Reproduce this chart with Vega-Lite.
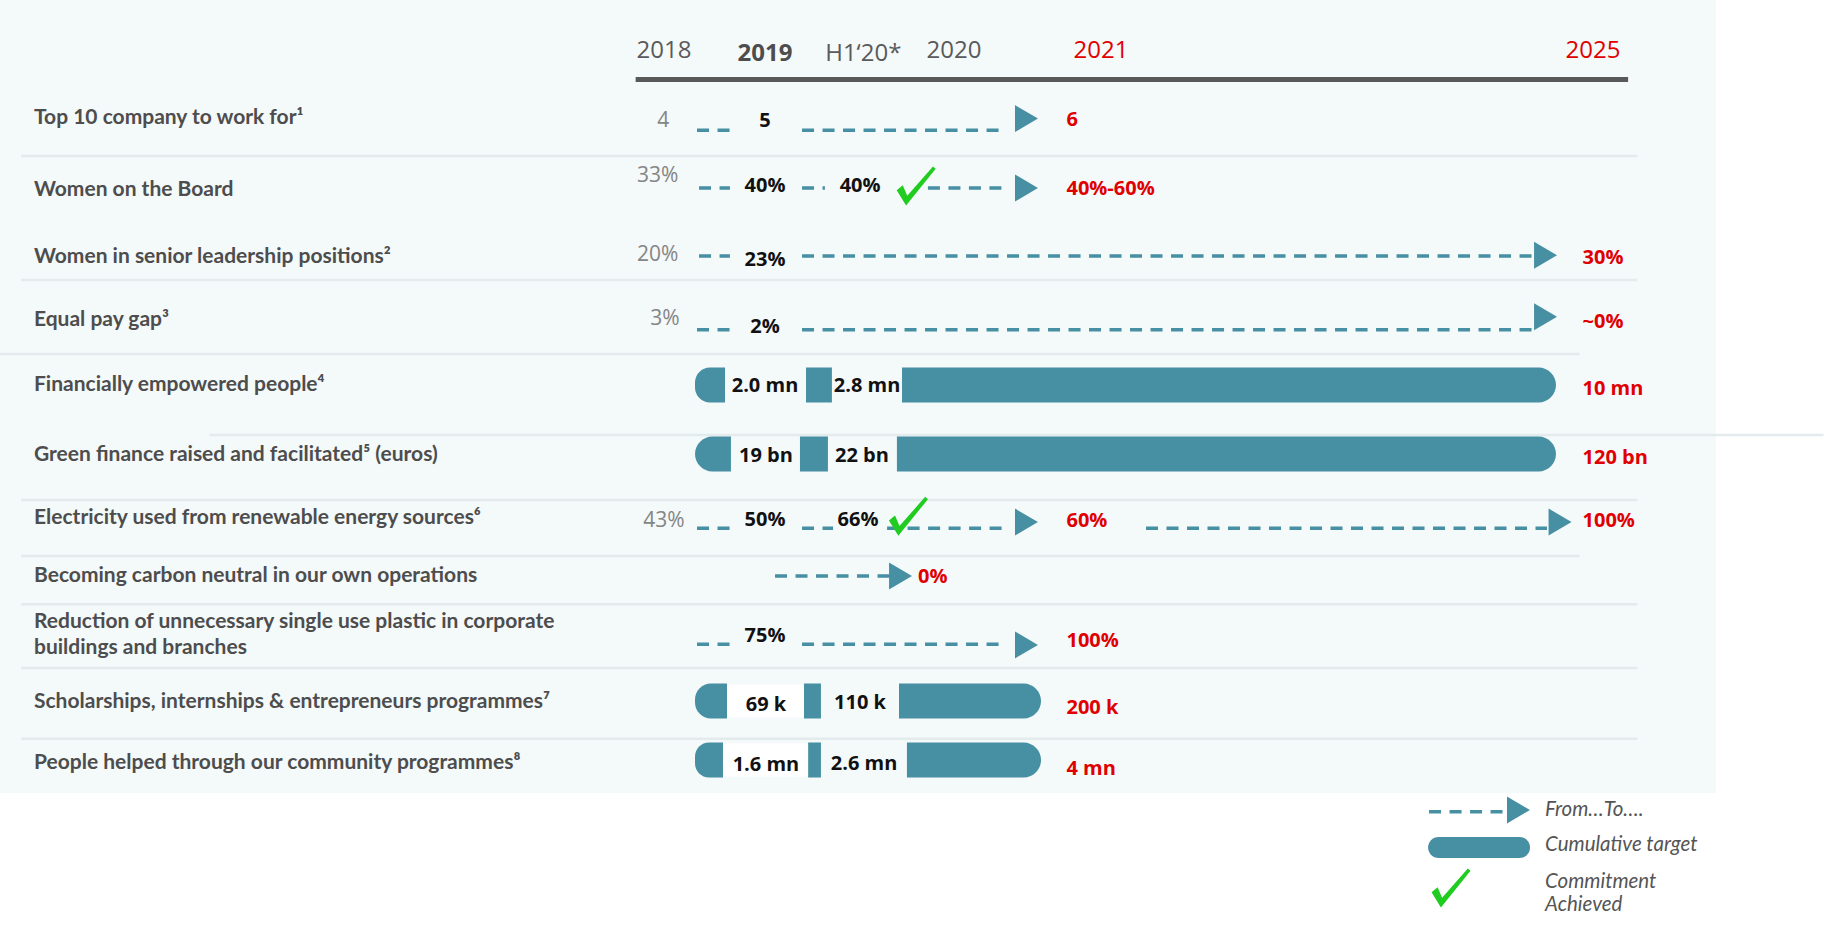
{
  "$schema": "https://vega.github.io/schema/vega-lite/v6.json",
  "width": 1716,
  "height": 793,
  "autosize": {"type": "none"},
  "padding": {"left": 0, "top": 0, "right": 111, "bottom": 139},
  "background": "#ffffff",
  "config": {"view": {"fill": "#f4f9fa", "stroke": null}},
  "datasets": {
    "sep": [
      {"t": 2009.62, "t2": 2025.38, "y": 1.529},
      {"t": 2009.62, "t2": 2025.38, "y": 3.375},
      {"t": 2009.0, "t2": 2024.89, "y": 4.523},
      {"t": 2012.23, "t2": 2026.97, "y": 5.725},
      {"t": 2009.62, "t2": 2025.38, "y": 6.687},
      {"t": 2009.62, "t2": 2024.89, "y": 7.636},
      {"t": 2009.62, "t2": 2025.38, "y": 8.44},
      {"t": 2009.62, "t2": 2025.38, "y": 9.46},
      {"t": 2009.62, "t2": 2025.38, "y": 10.64}
    ],
    "hline": [{"t": 2017.64, "t2": 2025.3, "y": 0.413}],
    "years": [
      {"t": 2018, "y": 0, "text": "2018", "kind": "past"},
      {"t": 2019, "y": 0.04, "text": "2019", "kind": "current"},
      {"t": 2019.52, "y": 0.04, "text": "H1‘20*", "kind": "past"},
      {"t": 2020, "y": 0, "text": "2020", "kind": "past"},
      {"t": 2021, "y": 0, "text": "2021", "kind": "target"},
      {"t": 2025, "y": 0, "text": "2025", "kind": "target"}
    ],
    "labels": [
      {"t": 2010, "y": 0.97, "text": "Top 10 company to work for¹"},
      {"t": 2010, "y": 2.03, "text": "Women on the Board"},
      {"t": 2010, "y": 3.02, "text": "Women in senior leadership positions²"},
      {"t": 2010, "y": 4.0, "text": "Equal pay gap³"},
      {"t": 2010, "y": 5.0, "text": "Financially empowered people⁴"},
      {"t": 2010, "y": 6.01, "text": "Green finance raised and facilitated⁵ (euros)"},
      {"t": 2010, "y": 6.96, "text": "Electricity used from renewable energy sources⁶"},
      {"t": 2010, "y": 8.0, "text": "Becoming carbon neutral in our own operations"},
      {"t": 2010, "y": 8.72, "text": "Reduction of unnecessary single use plastic in corporate\nbuildings and branches"},
      {"t": 2010, "y": 10.02, "text": "Scholarships, internships & entrepreneurs programmes⁷"},
      {"t": 2010, "y": 11.06, "text": "People helped through our community programmes⁸"}
    ],
    "base": [
      {"t": 2017.99, "y": 1.01, "text": "4"},
      {"t": 2017.92, "y": 1.82, "text": "33%"},
      {"t": 2017.92, "y": 2.99, "text": "20%"},
      {"t": 2018.01, "y": 3.98, "text": "3%"},
      {"t": 2018.0, "y": 7.0, "text": "43%"}
    ],
    "vals": [
      {"t": 2019, "y": 1.01, "text": "5"},
      {"t": 2019, "y": 1.97, "text": "40%"},
      {"t": 2019.503, "y": 1.97, "text": "40%"},
      {"t": 2019, "y": 3.06, "text": "23%"},
      {"t": 2019, "y": 4.11, "text": "2%"},
      {"t": 2019, "y": 5.02, "text": "2.0 mn"},
      {"t": 2019.54, "y": 5.02, "text": "2.8 mn"},
      {"t": 2019.005, "y": 6.03, "text": "19 bn"},
      {"t": 2019.513, "y": 6.03, "text": "22 bn"},
      {"t": 2019, "y": 6.99, "text": "50%"},
      {"t": 2019.492, "y": 6.99, "text": "66%"},
      {"t": 2019, "y": 8.94, "text": "75%"},
      {"t": 2019.005, "y": 10.07, "text": "69 k"},
      {"t": 2019.503, "y": 10.03, "text": "110 k"},
      {"t": 2019.005, "y": 11.1, "text": "1.6 mn"},
      {"t": 2019.524, "y": 11.08, "text": "2.6 mn"}
    ],
    "targets": [
      {"t": 2020.765, "y": 1.0, "text": "6"},
      {"t": 2020.765, "y": 2.01, "text": "40%-60%"},
      {"t": 2024.915, "y": 3.03, "text": "30%"},
      {"t": 2024.915, "y": 4.03, "text": "~0%"},
      {"t": 2024.915, "y": 5.06, "text": "10 mn"},
      {"t": 2024.915, "y": 6.06, "text": "120 bn"},
      {"t": 2020.765, "y": 7.0, "text": "60%"},
      {"t": 2024.915, "y": 7.0, "text": "100%"},
      {"t": 2019.81, "y": 8.02, "text": "0%"},
      {"t": 2020.765, "y": 9.02, "text": "100%"},
      {"t": 2020.765, "y": 10.12, "text": "200 k"},
      {"t": 2020.765, "y": 11.18, "text": "4 mn"}
    ],
    "dash": [
      {"t": 2018.327, "t2": 2018.653, "y": 1.15},
      {"t": 2019.196, "t2": 2020.333, "y": 1.15},
      {"t": 2018.347, "t2": 2018.653, "y": 2.0},
      {"t": 2019.196, "t2": 2019.317, "y": 2.0},
      {"t": 2019.862, "t2": 2020.333, "y": 2.0},
      {"t": 2018.347, "t2": 2018.653, "y": 3.0},
      {"t": 2019.196, "t2": 2024.504, "y": 3.0},
      {"t": 2018.327, "t2": 2018.653, "y": 4.15},
      {"t": 2019.196, "t2": 2024.504, "y": 4.15},
      {"t": 2018.327, "t2": 2018.733, "y": 7.13},
      {"t": 2019.196, "t2": 2019.36, "y": 7.13},
      {"t": 2019.646, "t2": 2020.333, "y": 7.13},
      {"t": 2021.366, "t2": 2024.626, "y": 7.13},
      {"t": 2019.053, "t2": 2019.661, "y": 8.0},
      {"t": 2018.327, "t2": 2018.733, "y": 9.07},
      {"t": 2019.196, "t2": 2020.333, "y": 9.07},
      {"t": 2023.667, "t2": 2024.301, "y": 12.05}
    ],
    "arrow": [
      {"t": 2020.493, "y": 0.98},
      {"t": 2020.493, "y": 2.0},
      {"t": 2024.614, "y": 2.99},
      {"t": 2024.614, "y": 3.95},
      {"t": 2020.493, "y": 7.02},
      {"t": 2024.732, "y": 7.02},
      {"t": 2019.717, "y": 8.0},
      {"t": 2020.493, "y": 9.08},
      {"t": 2024.394, "y": 12.0}
    ],
    "bar": [
      {"t": 2018.307, "t2": 2018.604, "y": 5, "seg": "first"},
      {"t": 2019.217, "t2": 2019.354, "y": 5, "seg": "mid"},
      {"t": 2019.725, "t2": 2024.699, "y": 5, "seg": "last"},
      {"t": 2018.307, "t2": 2018.663, "y": 6, "seg": "first"},
      {"t": 2019.185, "t2": 2019.333, "y": 6, "seg": "mid"},
      {"t": 2019.698, "t2": 2024.699, "y": 6, "seg": "last"},
      {"t": 2018.307, "t2": 2018.624, "y": 10, "seg": "first"},
      {"t": 2018.624, "t2": 2019.206, "y": 10, "seg": "gap"},
      {"t": 2019.206, "t2": 2019.296, "y": 10, "seg": "mid"},
      {"t": 2019.709, "t2": 2020.592, "y": 10, "seg": "last"},
      {"t": 2018.307, "t2": 2018.584, "y": 11, "seg": "first"},
      {"t": 2018.584, "t2": 2019.228, "y": 11, "seg": "gap"},
      {"t": 2019.228, "t2": 2019.296, "y": 11, "seg": "mid"},
      {"t": 2019.751, "t2": 2020.592, "y": 11, "seg": "last"},
      {"t": 2023.659, "t2": 2024.488, "y": 13.01, "seg": "key"}
    ],
    "check": [
      {"t": 2019.8, "y": 1.97},
      {"t": 2019.759, "y": 6.93},
      {"t": 2023.846, "y": 13.89}
    ],
    "legend": [
      {"t": 2024.61, "y": 12.0, "text": "From…To…."},
      {"t": 2024.61, "y": 12.95, "text": "Cumulative target"},
      {"t": 2024.61, "y": 13.76, "text": "Commitment\nAchieved"}
    ]
  },
  "encoding": {
    "x": {
      "field": "t",
      "type": "quantitative",
      "axis": null,
      "scale": {
        "domain": [2009, 2010, 2018, 2019, 2020, 2021, 2025, 2027],
        "range": [0, 34, 664, 765, 954, 1101, 1593, 1827],
        "zero": false,
        "nice": false
      }
    },
    "y": {
      "field": "y",
      "type": "quantitative",
      "axis": null,
      "scale": {
        "domain": [-1, 0, 1, 2, 3, 4, 5, 6, 7, 8, 9, 10, 11, 12, 13, 14, 15],
        "range": [0, 51, 120, 188, 256, 320, 385, 454, 521, 576, 640, 701, 760, 810, 847, 893, 932],
        "zero": false,
        "nice": false
      }
    }
  },
  "layer": [
    {
      "data": {"name": "sep"},
      "mark": {"type": "rule", "color": "#e3ebed", "strokeWidth": 2.5},
      "encoding": {"x2": {"field": "t2"}}
    },
    {
      "data": {"name": "hline"},
      "mark": {"type": "rule", "color": "#595959", "strokeWidth": 5},
      "encoding": {"x2": {"field": "t2"}}
    },
    {
      "data": {"name": "dash"},
      "mark": {"type": "rule", "color": "#478fa2", "strokeWidth": 3.5, "strokeDash": [12, 8.5]},
      "encoding": {"x2": {"field": "t2"}}
    },
    {
      "data": {"name": "bar"},
      "transform": [{"filter": "datum.seg == 'first'"}],
      "mark": {"type": "bar", "orient": "horizontal", "height": 35, "color": "#478fa2", "cornerRadiusTopLeft": 17.5, "cornerRadiusBottomLeft": 17.5},
      "encoding": {"x2": {"field": "t2"}}
    },
    {
      "data": {"name": "bar"},
      "transform": [{"filter": "datum.seg == 'mid'"}],
      "mark": {"type": "bar", "orient": "horizontal", "height": 35, "color": "#478fa2"},
      "encoding": {"x2": {"field": "t2"}}
    },
    {
      "data": {"name": "bar"},
      "transform": [{"filter": "datum.seg == 'gap'"}],
      "mark": {"type": "bar", "orient": "horizontal", "height": 33, "color": "#ffffff"},
      "encoding": {"x2": {"field": "t2"}}
    },
    {
      "data": {"name": "bar"},
      "transform": [{"filter": "datum.seg == 'last'"}],
      "mark": {"type": "bar", "orient": "horizontal", "height": 35, "color": "#478fa2", "cornerRadiusTopRight": 17.5, "cornerRadiusBottomRight": 17.5},
      "encoding": {"x2": {"field": "t2"}}
    },
    {
      "data": {"name": "bar"},
      "transform": [{"filter": "datum.seg == 'key'"}],
      "mark": {"type": "bar", "orient": "horizontal", "height": 21, "color": "#478fa2", "cornerRadius": 10.5},
      "encoding": {"x2": {"field": "t2"}}
    },
    {
      "data": {"name": "arrow"},
      "mark": {"type": "point", "shape": "M-0.85,-1L0.85,0L-0.85,1Z", "size": 729, "filled": true, "color": "#478fa2", "opacity": 1, "strokeWidth": 0}
    },
    {
      "data": {"name": "labels"},
      "mark": {"type": "text", "align": "left", "baseline": "middle", "font": "Lato", "fontWeight": "bold", "fontSize": 21, "color": "#4d4d4d", "lineBreak": "\n", "lineHeight": 26},
      "encoding": {"text": {"field": "text"}}
    },
    {
      "data": {"name": "years"},
      "transform": [{"filter": "datum.kind != 'current'"}],
      "mark": {"type": "text", "align": "center", "baseline": "middle", "font": "Open Sans", "fontSize": 24},
      "encoding": {
        "text": {"field": "text"},
        "color": {"field": "kind", "type": "nominal", "legend": null, "scale": {"domain": ["past", "current", "target"], "range": ["#5a5a5a", "#4d4d4d", "#e00000"]}}
      }
    },
    {
      "data": {"name": "years"},
      "transform": [{"filter": "datum.kind == 'current'"}],
      "mark": {"type": "text", "align": "center", "baseline": "middle", "font": "Open Sans", "fontWeight": "bold", "fontSize": 24, "color": "#4d4d4d"},
      "encoding": {"text": {"field": "text"}}
    },
    {
      "data": {"name": "base"},
      "mark": {"type": "text", "align": "center", "baseline": "middle", "font": "Open Sans", "fontSize": 21, "color": "#858585"},
      "encoding": {"text": {"field": "text"}}
    },
    {
      "data": {"name": "vals"},
      "mark": {"type": "text", "align": "center", "baseline": "middle", "font": "Open Sans", "fontWeight": "bold", "fontSize": 20, "color": "#111111"},
      "encoding": {"text": {"field": "text"}}
    },
    {
      "data": {"name": "targets"},
      "mark": {"type": "text", "align": "left", "baseline": "middle", "font": "Open Sans", "fontWeight": "bold", "fontSize": 20, "color": "#e00000"},
      "encoding": {"text": {"field": "text"}}
    },
    {
      "data": {"name": "check"},
      "mark": {"type": "point", "shape": "M-1,0.22L-0.69,-0.04L-0.46,0.5L0.86,-1L1,-0.88L-0.52,1Z", "size": 1521, "filled": true, "color": "#1fcc1f", "opacity": 1, "strokeWidth": 0}
    },
    {
      "data": {"name": "legend"},
      "mark": {"type": "text", "align": "left", "baseline": "middle", "font": "Lato", "fontStyle": "italic", "fontSize": 20.5, "color": "#555555", "lineBreak": "\n", "lineHeight": 23},
      "encoding": {"text": {"field": "text"}}
    }
  ]
}
